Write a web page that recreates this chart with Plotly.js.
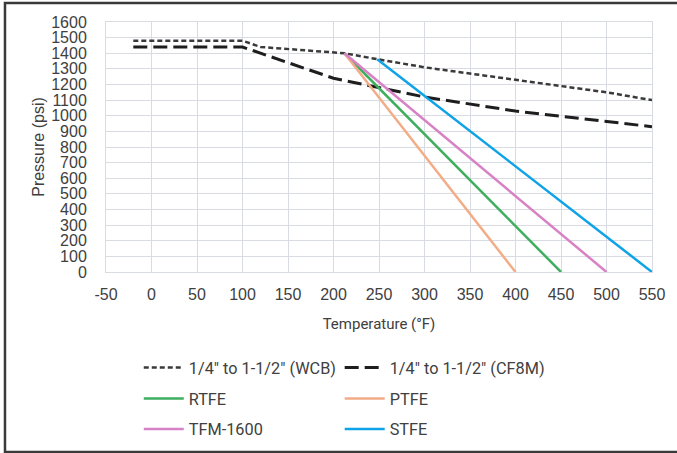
<!DOCTYPE html>
<html>
<head>
<meta charset="utf-8">
<script src="https://cdn.plot.ly/plotly-3.0.1.min.js"></script>
<style>
  html, body { margin: 0; padding: 0; background: #ffffff; overflow: hidden; }
  #chart { width: 677px; height: 453px; }
</style>
</head>
<body>
<div id="chart"></div>
<script>
// ---- Data ----
const wcbTemp = [-20, 100, 120, 212, 250, 300, 400, 500, 550];
const wcbPress = [1480, 1480, 1440, 1400, 1360, 1310, 1230, 1150, 1100];

const cf8mTemp = [-20, 100, 200, 300, 400, 500, 550];
const cf8mPress = [1440, 1440, 1240, 1120, 1030, 965, 930];

const rtfeTemp = [212, 450];
const rtfePress = [1400, 0];

const ptfeTemp = [212, 400];
const ptfePress = [1400, 0];

const tfmTemp = [212, 500];
const tfmPress = [1400, 0];

const stfeTemp = [248, 550];
const stfePress = [1362, 0];

const seriesNames = ['1/4" to 1-1/2" (WCB)', '1/4" to 1-1/2" (CF8M)', 'RTFE', 'PTFE', 'TFM-1600', 'STFE'];

const xTickVals = [-50, 0, 50, 100, 150, 200, 250, 300, 350, 400, 450, 500, 550];
const yTickVals = [0, 100, 200, 300, 400, 500, 600, 700, 800, 900, 1000, 1100, 1200, 1300, 1400, 1500, 1600];

// ---- Traces ----
const traces = [
  { x: wcbTemp, y: wcbPress, name: seriesNames[0], mode: 'lines',
    line: { color: '#3a3a3a', width: 2.5, dash: '5px,3px' }, legend: 'legend' },
  { x: cf8mTemp, y: cf8mPress, name: seriesNames[1], mode: 'lines',
    line: { color: '#1e1e1e', width: 3, dash: '14px,6px' }, legend: 'legend2' },
  { x: rtfeTemp, y: rtfePress, name: seriesNames[2], mode: 'lines',
    line: { color: '#3fae5f', width: 2.5 }, legend: 'legend3' },
  { x: ptfeTemp, y: ptfePress, name: seriesNames[3], mode: 'lines',
    line: { color: '#f2ad88', width: 2.5 }, legend: 'legend4' },
  { x: tfmTemp, y: tfmPress, name: seriesNames[4], mode: 'lines',
    line: { color: '#d882c6', width: 2.5 }, legend: 'legend5' },
  { x: stfeTemp, y: stfePress, name: seriesNames[5], mode: 'lines',
    line: { color: '#0ea3e6', width: 2.5 }, legend: 'legend6' }
];

const gridColor = '#d9dbe3';
const textColor = '#404040';
const legendFont = { family: 'Roboto, sans-serif', size: 16.3, color: textColor };

function legendAt(x, y) {
  return {
    orientation: 'h', x: x, xanchor: 'left', y: y, yanchor: 'middle',
    font: legendFont, itemwidth: 40,
    bgcolor: 'rgba(0,0,0,0)', borderwidth: 0, itemclick: false
  };
}
const col1 = 0.060, col2 = 0.428;
const row1 = -0.384, row2 = -0.508, row3 = -0.63;

const layout = {
  width: 677, height: 453,
  margin: { l: 106, r: 25, t: 22, b: 181, autoexpand: false },
  paper_bgcolor: '#ffffff', plot_bgcolor: '#ffffff',
  showlegend: true,
  xaxis: {
    range: [-50, 550], tickvals: xTickVals, ticktext: xTickVals.map(String),
    showgrid: true, gridcolor: gridColor, gridwidth: 1, zeroline: false,
    showline: true, linecolor: gridColor, linewidth: 1, mirror: true,
    ticks: '', ticklabelstandoff: 8,
    tickfont: { family: 'Liberation Sans, Arial, sans-serif', size: 16, color: textColor },
    title: { text: 'Temperature (°F)', standoff: 16,
      font: { family: 'Roboto, sans-serif', size: 15, color: textColor } },
    fixedrange: true
  },
  yaxis: {
    range: [0, 1600], tickvals: yTickVals, ticktext: yTickVals.map(String),
    showgrid: true, gridcolor: gridColor, gridwidth: 1, zeroline: false,
    showline: true, linecolor: gridColor, linewidth: 1, mirror: true,
    ticks: '', ticklabelstandoff: 15,
    tickfont: { family: 'Liberation Sans, Arial, sans-serif', size: 16, color: textColor },
    title: { text: 'Pressure (psi)', standoff: 2,
      font: { family: 'Liberation Sans, Arial, sans-serif', size: 16, color: textColor } },
    fixedrange: true
  },
  legend: legendAt(col1, row1),
  legend2: legendAt(col2, row1),
  legend3: legendAt(col1, row2),
  legend4: legendAt(col2, row2),
  legend5: legendAt(col1, row3),
  legend6: legendAt(col2, row3),
  shapes: [
    { type: 'rect', xref: 'paper', yref: 'paper',
      x0: -0.185, x1: 1.12, y0: -0.72, y1: 1.076,
      line: { color: '#3a3a3a', width: 2.5 }, layer: 'above' }
  ]
};

Plotly.newPlot('chart', traces, layout, { displayModeBar: false, staticPlot: true });
</script>
</body>
</html>
